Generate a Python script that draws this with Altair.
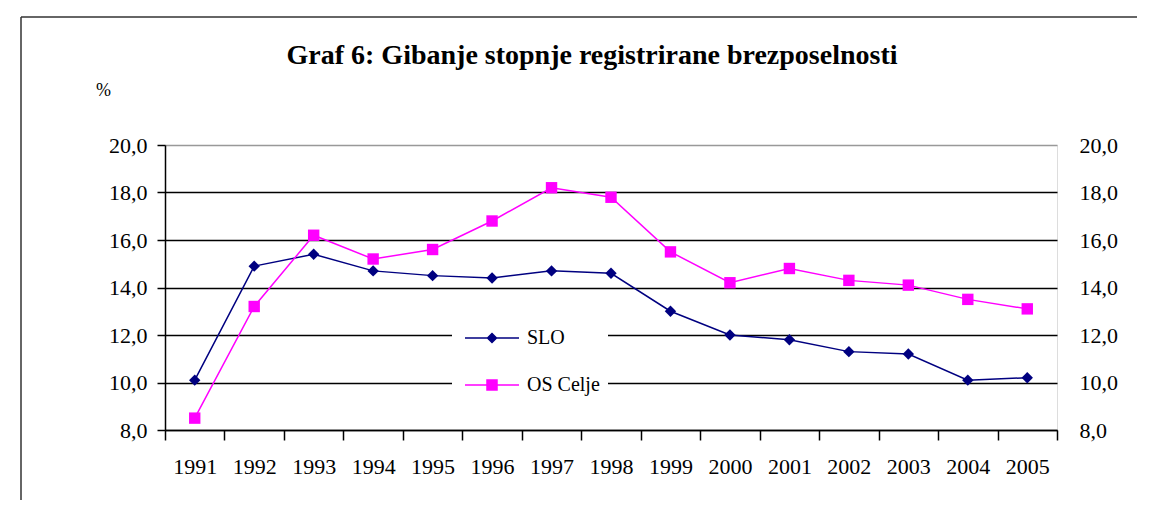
import altair as alt
import pandas as pd

# ---- data ----
years = [1991, 1992, 1993, 1994, 1995, 1996, 1997, 1998, 1999, 2000, 2001, 2002, 2003, 2004, 2005]
slo = [10.1, 14.9, 15.4, 14.7, 14.5, 14.4, 14.7, 14.6, 13.0, 12.0, 11.8, 11.3, 11.2, 10.1, 10.2]
celje = [8.5, 13.2, 16.2, 15.2, 15.6, 16.8, 18.2, 17.8, 15.5, 14.2, 14.8, 14.3, 14.1, 13.5, 13.1]
series_names = ["SLO", "OS Celje"]
y_ticks = [8, 10, 12, 14, 16, 18, 20]
x_tick_edges = [1990.5, 1991.5, 1992.5, 1993.5, 1994.5, 1995.5, 1996.5, 1997.5,
                1998.5, 1999.5, 2000.5, 2001.5, 2002.5, 2003.5, 2004.5, 2005.5]
title_text = "Graf 6: Gibanje stopnje registrirane brezposelnosti"
y_unit = "%"

# ---- styles ----
series_colors = ["#000080", "#FF00FF"]
marker_shapes = ["diamond", "square"]
legend_shapes = [
    "M-1,0L9.8,0M3.5,0L4.4,-0.9L5.3,0L4.4,0.9Z",
    "M-1,0L9.8,0M3.4,-1L5.4,-1L5.4,1L3.4,1Z",
]
FONT = "Liberation Serif"
label_expr = "replace(format(datum.value, '.1f'), '.', ',')"

rows = []
for name, vals in zip(series_names, [slo, celje]):
    for yr, v in zip(years, vals):
        rows.append({"year": yr, "value": v, "series": name})
df = pd.DataFrame(rows)

xscale = alt.Scale(domain=[x_tick_edges[0], x_tick_edges[-1]], nice=False, zero=False)
yscale = alt.Scale(domain=[y_ticks[0], y_ticks[-1]], nice=False, zero=False)
color_scale = alt.Scale(domain=series_names, range=series_colors)

lines = alt.Chart(df).mark_line(strokeWidth=1.5).encode(
    x=alt.X("year:Q", scale=xscale, axis=alt.Axis(
        values=x_tick_edges, labels=False, ticks=True, tickSize=10, tickColor="black",
        tickWidth=1.5, domainColor="black", domainWidth=1.5, grid=False, title=None,
        orient="bottom")),
    y=alt.Y("value:Q", scale=yscale, axis=alt.Axis(
        values=y_ticks, orient="left", labelExpr=label_expr, labelFont=FONT,
        labelFontSize=22, labelColor="black", labelPadding=10, tickSize=8,
        tickColor="black", tickWidth=1.5, domainColor="black", domainWidth=1.5,
        grid=True,
        gridColor={"condition": {"test": "datum.value >= 20", "value": "#999999"}, "value": "black"},
        gridWidth=1.5, gridOpacity=1,
        title=y_unit, titleAngle=0, titleX=-62, titleY=-55, titleFont=FONT,
        titleFontSize=18, titleFontWeight="normal", titleAlign="center",
        titleBaseline="middle", titleColor="black")),
    color=alt.Color("series:N", scale=color_scale, legend=None),
)

points = alt.Chart(df).mark_point(filled=True, opacity=1, size=130).encode(
    x=alt.X("year:Q", scale=xscale, axis=alt.Axis(
        values=years, format="d", labelFont=FONT, labelFontSize=22, labelColor="black",
        labelPadding=26, ticks=False, tickSize=0, domain=False, grid=False, title=None,
        orient="bottom", labelFlush=False)),
    y=alt.Y("value:Q", scale=yscale, axis=alt.Axis(
        values=y_ticks, orient="right", labelExpr=label_expr, labelFont=FONT,
        labelFontSize=22, labelColor="black", labelPadding=22, ticks=False, tickSize=0,
        domain=False, grid=False, title=None)),
    color=alt.Color("series:N", scale=color_scale, legend=None),
    shape=alt.Shape("series:N", scale=alt.Scale(domain=series_names, range=marker_shapes), legend=None),
)

legend_layer = alt.Chart(df).transform_filter("false").mark_point(
    filled=True, opacity=1, strokeWidth=1.5).encode(
    x=alt.X("year:Q", scale=xscale, axis=None),
    y=alt.Y("value:Q", scale=yscale, axis=None),
    color=alt.Color("series:N", scale=alt.Scale(domain=series_names, range=series_colors),
                    legend=alt.Legend(title=None, orient="none", legendX=287, legendY=175,
                                      fillColor="white", padding=8, labelFont=FONT,
                                      labelFontSize=20, labelColor="black", rowPadding=27,
                                      symbolSize=100, labelOffset=47, symbolStrokeWidth=1.5,
                                      direction="vertical")),
    stroke=alt.Stroke("series:N", scale=alt.Scale(domain=series_names, range=series_colors)),
    shape=alt.Shape("series:N", scale=alt.Scale(domain=series_names, range=legend_shapes)),
)

blank = alt.Data(values=[{}])
frame_top = alt.Chart(blank).mark_rule(color="#333333", strokeWidth=1.5).encode(
    x=alt.value(-144), x2=alt.value(1000), y=alt.value(-128))
frame_left = alt.Chart(blank).mark_rule(color="#333333", strokeWidth=1.5).encode(
    x=alt.value(-144), y=alt.value(-128), y2=alt.value(370))

chart = alt.layer(frame_top, frame_left, lines, points, legend_layer).resolve_axis(
    x="independent", y="independent"
).resolve_scale(
    color="independent", shape="independent", stroke="independent"
).properties(
    width=892, height=285,
    padding={"left": 157, "top": 137, "right": 80, "bottom": 70},
    autosize=alt.AutoSizeParams(type="none"),
    title=alt.Title(title_text, font=FONT, fontSize=28, fontWeight="bold", color="black",
                    anchor="middle", offset=0, baseline="bottom", dx=-19, dy=82),
).configure_view(fill="#FFFFCC", stroke="#999999", strokeWidth=1
).configure_axis(labelFont=FONT, titleFont=FONT
).configure_legend(labelFont=FONT
).configure(background="white", font=FONT)

chart.save("out.html", embed_options={"renderer": "svg", "actions": False})
